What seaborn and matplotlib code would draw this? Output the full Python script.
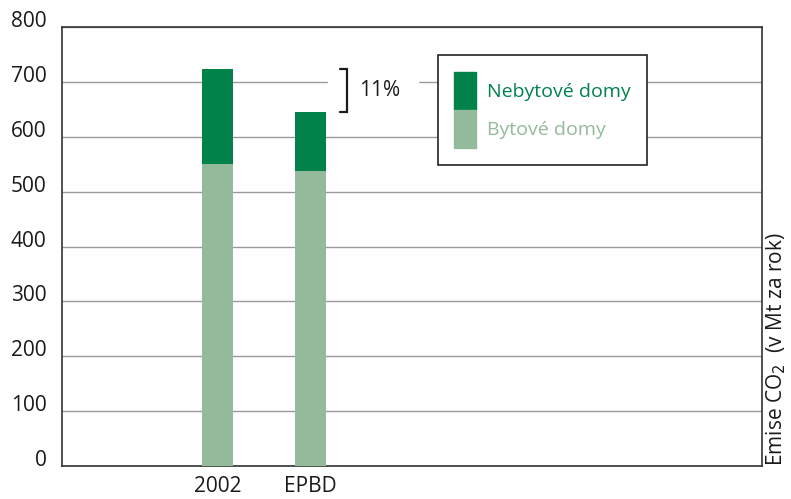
import numpy as np
import pandas as pd
import seaborn as sns
import matplotlib.pyplot as plt
from matplotlib.patches import Patch, Rectangle

# data (Mt CO2 per year)
kategorie = ["2002", "EPBD"]
bytove = [550, 537]
nebytove = [173, 108]
celkem = [b + n for b, n in zip(bytove, nebytove)]

tmave = "#00824a"
svetle = "#93ba9a"

sns.set_style("white")
plt.rcParams["font.family"] = ["Open Sans", "DejaVu Sans"]

df = pd.DataFrame({"kat": kategorie, "bytove": bytove, "celkem": celkem})

fig = plt.figure(figsize=(7.91, 4.99), dpi=100)
ax = fig.add_axes([0.0784, 0.0661, 0.885, 0.8798])

# stacked: total in dark, residential on top of it in light
sns.barplot(data=df, x="kat", y="celkem", color=tmave, width=0.333,
            saturation=1, linewidth=0, ax=ax, zorder=3)
sns.barplot(data=df, x="kat", y="bytove", color=svetle, width=0.333,
            saturation=1, linewidth=0, ax=ax, zorder=4)

ax.set_xlim(-1.67, 5.86)
ax.set_ylim(0, 800)
ax.set_yticks(np.arange(0, 801, 100))
ax.yaxis.grid(True, color="#9a9a9a", lw=1)
ax.set_axisbelow(True)
ax.set_xlabel("")
ax.set_ylabel("")
ax.tick_params(axis="both", length=0, labelsize=15, colors="#1a1a1a")
ax.tick_params(axis="y", pad=11)
ax.tick_params(axis="x", pad=7)
for lab in ax.get_yticklabels():
    lab.set_verticalalignment("baseline")
for s in ax.spines.values():
    s.set_color("#333333")
    s.set_linewidth(1.2)

# 11% bracket between the two totals
ax.add_patch(Rectangle((1.19, 690), 0.97, 20, color="white", zorder=2))
bx0, bx1 = 1.32, 1.40
ax.plot([bx0, bx1, bx1, bx0], [celkem[0], celkem[0], celkem[1], celkem[1]],
        color="#1a1a1a", lw=1.6, zorder=5, solid_joinstyle="miter")
pokles = round((celkem[0] - celkem[1]) / celkem[0] * 100)
ax.text(1.52, (celkem[0] + celkem[1]) / 2, f"{pokles}%", fontsize=15,
        va="center", ha="left", color="#1a1a1a", zorder=5)

handles = [Patch(color=tmave), Patch(color=svetle)]
leg = ax.legend(handles, ["Nebytové domy", "Bytové domy"], loc="upper left",
                bbox_to_anchor=(0.537, 0.936), borderaxespad=0, fontsize=14,
                handleheight=2.65, handlelength=1.13, handletextpad=0.55,
                labelspacing=0, borderpad=0.85, fancybox=False, framealpha=1,
                labelcolor=[tmave, svetle])
leg.get_frame().set_edgecolor("#222222")
leg.get_frame().set_linewidth(1.2)
leg.set_zorder(6)

ax.text(1.02, 0.0, "Emise CO$_2$  (v Mt za rok)", transform=ax.transAxes,
        rotation=90, va="bottom", ha="center", fontsize=15, color="#1a1a1a")

fig.savefig("out.png", dpi=100)
